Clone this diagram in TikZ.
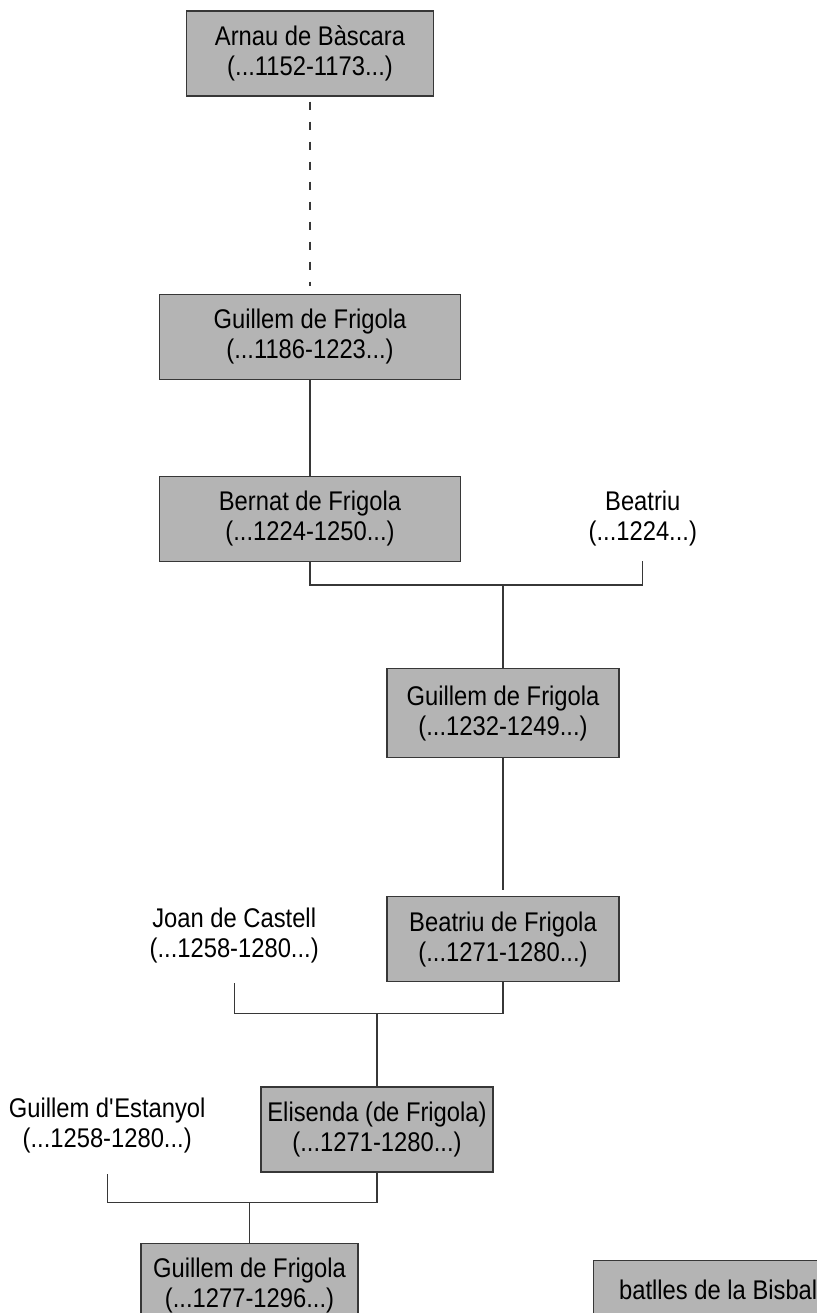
\documentclass[tikz,border=0pt]{standalone}
\usepackage{fontspec}
\setmainfont{Liberation Sans}[FakeStretch=0.88]
\usepackage{tikz}
\usetikzlibrary{positioning}
\definecolor{boxgray}{RGB}{180,180,180}
\definecolor{rulegray}{RGB}{55,55,55}
\newcommand{\namefont}{\fontsize{27pt}{30pt}\selectfont}
\tikzset{
  person/.style ={draw=rulegray,line width=1.2pt,fill=boxgray,align=center,inner sep=0pt,minimum height=85pt},
  spouse/.style ={align=center,inner sep=0pt,minimum width=200pt},
  link/.style   ={draw=rulegray,line width=1.2pt},
  blood/.style  ={link,dash pattern=on 8pt off 12pt}
}

\begin{document}
\begin{tikzpicture}[x=1pt,y=-1pt,every node/.style={font=\namefont}]
    \useasboundingbox (0,0) rectangle (816,1313);
    \node[person,minimum width=247pt] (arnau) at (310,53.5) {Arnau de Bàscara\\(...1152-1173...)};
    \node[person,minimum width=301pt,below=197pt of arnau]               (guillemA) {Guillem de Frigola\\(...1186-1223...)};
    \node[person,minimum width=301pt,below=96pt of guillemA]             (bernat)   {Bernat de Frigola\\(...1224-1250...)};
    \node[spouse,right=81.5pt of bernat]                                  (beatriu)  {Beatriu\\(...1224...)};
    \node[person,minimum width=232pt,minimum height=89pt,below=106pt of bernat,xshift=193pt] (guillemB) {Guillem de Frigola\\(...1232-1249...)};
    \node[person,minimum width=232pt,below=138pt of guillemB]            (beatriuF) {Beatriu de Frigola\\(...1271-1280...)};
    \node[spouse,left=52pt of beatriuF,yshift=4pt]                        (joan)     {Joan de Castell\\(...1258-1280...)};
    \node[person,minimum width=232pt,below=104pt of beatriuF,xshift=-126pt] (elisenda) {Elisenda (de Frigola)\\(...1271-1280...)};
    \node[spouse,left=53pt of elisenda,yshift=4pt]                        (estanyol) {Guillem d{\textquotesingle}Estanyol\\(...1258-1280...)};
    \node[person,minimum width=217pt,below=70pt of elisenda,xshift=-127.5pt] (guillemC) {Guillem de Frigola\\(...1277-1296...)};
    \node[person,minimum width=250pt,minimum height=60pt,right=234pt of guillemC,yshift=-4.5pt] (batlles) {batlles de la Bisbal};
    \draw[blood,shorten <=5pt,shorten >=8pt] (arnau) -- (guillemA);
    \draw[link] (guillemA) -- (bernat);
    \draw[link] (bernat.south) -- ++(0,23) coordinate (wedA) -| ([yshift=-14pt]beatriu.south);
    \draw[link] (wedA -| guillemB.north) -- (guillemB.north);
    \draw[link,shorten >=6pt] (guillemB) -- (beatriuF);
    \draw[link] (beatriuF.south) -- ++(0,31) coordinate (wedB) -| ([yshift=-20pt]joan.south);
    \draw[link] (wedB -| elisenda.north) -- (elisenda.north);
    \draw[link] (elisenda.south) -- ++(0,30) coordinate (wedC) -| ([yshift=-21pt]estanyol.south);
    \draw[link] (wedC -| guillemC.north) -- (guillemC.north);
  \end{tikzpicture}
\end{document}
